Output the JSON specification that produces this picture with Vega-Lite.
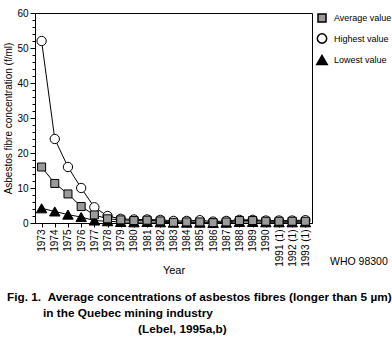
{
  "$schema": "https://vega.github.io/schema/vega-lite/v6.json",
  "width": 277,
  "height": 210,
  "autosize": {"type": "none"},
  "padding": {"left": 35, "top": 13, "right": 80, "bottom": 132},
  "background": "white",
  "config": {
    "font": "Liberation Sans",
    "view": {"stroke": "black", "strokeWidth": 1},
    "axis": {"domainColor": "black", "tickColor": "black", "labelColor": "black", "titleColor": "black", "grid": false, "labelFont": "Liberation Sans", "titleFont": "Liberation Sans", "titleFontWeight": "normal"}
  },
  "title": {
    "text": [
      "Fig. 1.\u00a0\u00a0Average concentrations of asbestos fibres (longer than 5 µm)",
      "\u200b\u00a0\u00a0\u00a0\u00a0\u00a0\u00a0\u00a0\u00a0\u00a0\u00a0\u00a0in the Quebec mining industry",
      "\u200b\u00a0\u00a0\u00a0\u00a0\u00a0\u00a0\u00a0\u00a0\u00a0\u00a0\u00a0\u00a0\u00a0\u00a0\u00a0\u00a0\u00a0\u00a0\u00a0\u00a0\u00a0\u00a0\u00a0\u00a0\u00a0\u00a0\u00a0\u00a0\u00a0\u00a0\u00a0\u00a0\u00a0\u00a0\u00a0\u00a0\u00a0\u00a0\u00a0\u00a0(Lebel, 1995a,b)"
    ],
    "orient": "bottom",
    "anchor": "start",
    "frame": "group",
    "dx": -28,
    "offset": 17,
    "font": "Liberation Sans",
    "fontSize": 11.8,
    "fontWeight": "bold",
    "color": "black",
    "lineHeight": 16
  },
  "resolve": {"scale": {"x": "independent", "y": "independent"}, "axis": {"x": "independent", "y": "independent"}},
  "layer": [
    {
      "data": {
        "values": [
          {"year": "1973", "series": "Highest value", "v": 52},
          {"year": "1974", "series": "Highest value", "v": 24},
          {"year": "1975", "series": "Highest value", "v": 16},
          {"year": "1976", "series": "Highest value", "v": 10},
          {"year": "1977", "series": "Highest value", "v": 4.5},
          {"year": "1978", "series": "Highest value", "v": 2.0},
          {"year": "1979", "series": "Highest value", "v": 1.2},
          {"year": "1980", "series": "Highest value", "v": 1.0},
          {"year": "1981", "series": "Highest value", "v": 1.0},
          {"year": "1982", "series": "Highest value", "v": 0.9},
          {"year": "1983", "series": "Highest value", "v": 0.6},
          {"year": "1984", "series": "Highest value", "v": 0.6},
          {"year": "1985", "series": "Highest value", "v": 0.8},
          {"year": "1986", "series": "Highest value", "v": 0.4},
          {"year": "1987", "series": "Highest value", "v": 0.6},
          {"year": "1988", "series": "Highest value", "v": 0.9},
          {"year": "1989", "series": "Highest value", "v": 0.9},
          {"year": "1990", "series": "Highest value", "v": 0.7},
          {"year": "1991 (1)", "series": "Highest value", "v": 0.7},
          {"year": "1992 (1)", "series": "Highest value", "v": 0.7},
          {"year": "1993 (1)", "series": "Highest value", "v": 0.8},
          {"year": "1973", "series": "Lowest value", "v": 4.2},
          {"year": "1974", "series": "Lowest value", "v": 3.3},
          {"year": "1975", "series": "Lowest value", "v": 2.4},
          {"year": "1976", "series": "Lowest value", "v": 1.7},
          {"year": "1977", "series": "Lowest value", "v": 0.7},
          {"year": "1978", "series": "Lowest value", "v": 0.5},
          {"year": "1979", "series": "Lowest value", "v": 0.3},
          {"year": "1980", "series": "Lowest value", "v": 0.2},
          {"year": "1981", "series": "Lowest value", "v": 0.3},
          {"year": "1982", "series": "Lowest value", "v": 0.2},
          {"year": "1983", "series": "Lowest value", "v": 0.1},
          {"year": "1984", "series": "Lowest value", "v": 0.1},
          {"year": "1985", "series": "Lowest value", "v": 0.1},
          {"year": "1986", "series": "Lowest value", "v": 0.0},
          {"year": "1987", "series": "Lowest value", "v": 0.1},
          {"year": "1988", "series": "Lowest value", "v": 0.3},
          {"year": "1989", "series": "Lowest value", "v": 0.3},
          {"year": "1990", "series": "Lowest value", "v": 0.2},
          {"year": "1991 (1)", "series": "Lowest value", "v": 0.2},
          {"year": "1992 (1)", "series": "Lowest value", "v": 0.2},
          {"year": "1993 (1)", "series": "Lowest value", "v": 0.2},
          {"year": "1973", "series": "Average value", "v": 16},
          {"year": "1974", "series": "Average value", "v": 11.3},
          {"year": "1975", "series": "Average value", "v": 8.3},
          {"year": "1976", "series": "Average value", "v": 4.7},
          {"year": "1977", "series": "Average value", "v": 2.3},
          {"year": "1978", "series": "Average value", "v": 1.2},
          {"year": "1979", "series": "Average value", "v": 0.9},
          {"year": "1980", "series": "Average value", "v": 0.7},
          {"year": "1981", "series": "Average value", "v": 0.8},
          {"year": "1982", "series": "Average value", "v": 0.6},
          {"year": "1983", "series": "Average value", "v": 0.2},
          {"year": "1984", "series": "Average value", "v": 0.3},
          {"year": "1985", "series": "Average value", "v": 0.3},
          {"year": "1986", "series": "Average value", "v": 0.1},
          {"year": "1987", "series": "Average value", "v": 0.3},
          {"year": "1988", "series": "Average value", "v": 0.7},
          {"year": "1989", "series": "Average value", "v": 0.7},
          {"year": "1990", "series": "Average value", "v": 0.5},
          {"year": "1991 (1)", "series": "Average value", "v": 0.5},
          {"year": "1992 (1)", "series": "Average value", "v": 0.5},
          {"year": "1993 (1)", "series": "Average value", "v": 0.5}
        ]
      },
      "encoding": {
        "x": {
          "field": "year", "type": "ordinal", "sort": null,
          "scale": {"type": "point", "padding": 0.5},
          "axis": {"title": "Year", "titleFontSize": 11, "titlePadding": -2, "labelAngle": -90, "labelFontSize": 10, "tickSize": 4, "labelPadding": 2, "domain": true}
        },
        "y": {
          "field": "v", "type": "quantitative",
          "scale": {"domain": [0, 60], "nice": false},
          "axis": {
            "title": "Asbestos fibre concentration (f/ml)",
            "titleFontSize": 10,
            "titlePadding": 3,
            "values": [0,2,4,6,8,10,12,14,16,18,20,22,24,26,28,30,32,34,36,38,40,42,44,46,48,50,52,54,56,58,60],
            "labelExpr": "datum.value % 10 === 0 ? datum.label : ''",
            "tickSize": {"condition": {"test": "datum.value % 10 === 0", "value": 5}, "value": 3},
            "labelFontSize": 10,
            "labelPadding": 2
          }
        }
      },
      "layer": [
        {
          "mark": {"type": "line", "color": "black", "strokeWidth": 1},
          "encoding": {"detail": {"field": "series"}}
        },
        {
          "mark": {"type": "point", "filled": true, "stroke": "black", "strokeWidth": 1, "opacity": 1},
          "encoding": {
            "shape": {"field": "series", "type": "nominal", "scale": {"domain": ["Average value", "Highest value", "Lowest value"], "range": ["square", "circle", "triangle-up"]}, "legend": {"title": null, "orient": "right", "offset": 4, "labelFontSize": 9, "labelFont": "Liberation Sans", "labelColor": "black", "labelOffset": 6, "rowPadding": 5, "encode": {"symbols": {"update": {"stroke": {"value": "black"}, "strokeWidth": {"value": 1}}}}}},
            "fill": {"field": "series", "type": "nominal", "scale": {"domain": ["Average value", "Highest value", "Lowest value"], "range": ["#9a9a9a", "white", "black"]}, "legend": {"title": null, "orient": "right", "offset": 4, "labelFontSize": 9, "labelFont": "Liberation Sans", "labelColor": "black", "labelOffset": 6, "rowPadding": 5, "encode": {"symbols": {"update": {"stroke": {"value": "black"}, "strokeWidth": {"value": 1}}}}}},
            "size": {"field": "series", "type": "nominal", "scale": {"domain": ["Average value", "Highest value", "Lowest value"], "range": [64, 110, 70]}, "legend": {"title": null, "orient": "right", "offset": 4, "labelFontSize": 9, "labelFont": "Liberation Sans", "labelColor": "black", "labelOffset": 6, "rowPadding": 5, "encode": {"symbols": {"update": {"stroke": {"value": "black"}, "strokeWidth": {"value": 1}}}}}}
          }
        }
      ]
    },
    {
      "data": {"values": [{"label": "WHO 98300"}]},
      "mark": {"type": "text", "align": "left", "baseline": "middle", "dx": 18, "dy": 39, "fontSize": 10.5, "font": "Liberation Sans", "color": "black"},
      "encoding": {
        "x": {"datum": 1, "type": "quantitative", "scale": {"domain": [0, 1]}, "axis": null},
        "y": {"datum": 0, "type": "quantitative", "scale": {"domain": [0, 1]}, "axis": null},
        "text": {"field": "label", "type": "nominal"}
      }
    }
  ]
}
